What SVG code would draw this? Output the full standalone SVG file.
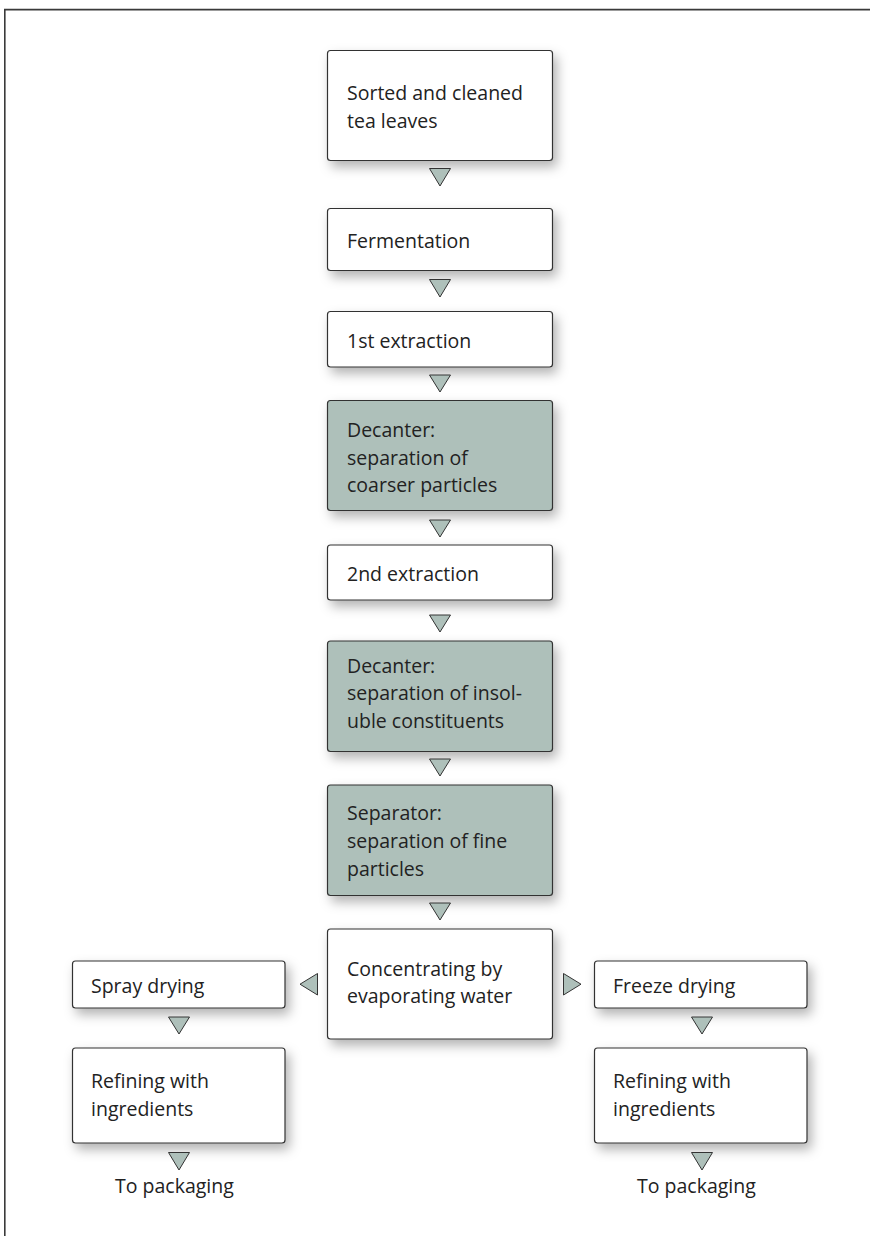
<svg xmlns="http://www.w3.org/2000/svg" width="870" height="1236" viewBox="0 0 870 1236">
<style>
.box{fill:#ffffff;stroke:#333333;stroke-width:1.2;filter:url(#sh)}
.dark{fill:#aec0ba}
.t{font-family:"Open Sans","Noto Sans",sans-serif;font-size:19.5px;fill:#222222}
.arr{fill:#aec0ba;stroke:#333333;stroke-width:1}
.frame{stroke:#3a3a3a;stroke-width:1.6;fill:none}
</style>
<defs>
<filter id="sh" x="-20%" y="-20%" width="150%" height="160%">
<feDropShadow dx="4" dy="6" stdDeviation="6" flood-color="#000" flood-opacity="0.3"/>
</filter>
</defs>
<rect width="870" height="1236" fill="#ffffff"/>
<path class="frame" d="M4.8 1236 V9.6 H870"/>

<g id="n1"><rect class="box" x="327.5" y="50.5" width="225" height="110" rx="3"/>
<text class="t" x="347" y="100">Sorted and cleaned</text><text class="t" x="347" y="128">tea leaves</text></g>
<g id="n2"><rect class="box" x="327.5" y="208.5" width="225" height="62" rx="3"/>
<text class="t" x="347" y="248">Fermentation</text></g>
<g id="n3"><rect class="box" x="327.5" y="311.5" width="225" height="55.5" rx="3"/>
<text class="t" x="347" y="348">1st extraction</text></g>
<g id="n4"><rect class="box dark" x="327.5" y="400.5" width="225" height="110" rx="3"/>
<text class="t" x="347" y="437">Decanter:</text><text class="t" x="347" y="465">separation of</text><text class="t" x="347" y="492">coarser particles</text></g>
<g id="n5"><rect class="box" x="327.5" y="545" width="225" height="55" rx="3"/>
<text class="t" x="347" y="581">2nd extraction</text></g>
<g id="n6"><rect class="box dark" x="327.5" y="641" width="225" height="110.5" rx="3"/>
<text class="t" x="347" y="673">Decanter:</text><text class="t" x="347" y="700">separation of insol-</text><text class="t" x="347" y="728">uble constituents</text></g>
<g id="n7"><rect class="box dark" x="327.5" y="785" width="225" height="110.5" rx="3"/>
<text class="t" x="347" y="820">Separator:</text><text class="t" x="347" y="848">separation of fine</text><text class="t" x="347" y="876">particles</text></g>
<g id="n8"><rect class="box" x="327.5" y="929" width="225" height="110" rx="3"/>
<text class="t" x="347" y="976">Concentrating by</text><text class="t" x="347" y="1003">evaporating water</text></g>
<g id="n9"><rect class="box" x="72.5" y="961" width="212.5" height="47" rx="3"/>
<text class="t" x="91" y="993">Spray drying</text></g>
<g id="n10"><rect class="box" x="72.5" y="1048" width="212.5" height="95" rx="3"/>
<text class="t" x="91" y="1088">Refining with</text><text class="t" x="91" y="1116">ingredients</text></g>
<g id="n11"><rect class="box" x="594.5" y="961" width="212.5" height="47" rx="3"/>
<text class="t" x="613" y="993">Freeze drying</text></g>
<g id="n12"><rect class="box" x="594.5" y="1048" width="212.5" height="95" rx="3"/>
<text class="t" x="613" y="1088">Refining with</text><text class="t" x="613" y="1116">ingredients</text></g>
<g id="out1"><text class="t" x="115" y="1193">To packaging</text></g>
<g id="out2"><text class="t" x="637" y="1193">To packaging</text></g>

<g id="connectors">
<polygon class="arr" points="429.5,168.5 450.5,168.5 440,186"/>
<polygon class="arr" points="429.5,279.5 450.5,279.5 440,297"/>
<polygon class="arr" points="429.5,375 450.5,375 440,392"/>
<polygon class="arr" points="429.5,520 450.5,520 440,537"/>
<polygon class="arr" points="429.5,615 450.5,615 440,632"/>
<polygon class="arr" points="429.5,759 450.5,759 440,776"/>
<polygon class="arr" points="429.5,903 450.5,903 440,920"/>
<polygon class="arr" points="317.5,973.5 317.5,995 300,984.2"/>
<polygon class="arr" points="563.5,973.5 563.5,995 581,984.2"/>
<polygon class="arr" points="168.5,1017 189.5,1017 179,1034"/>
<polygon class="arr" points="168.5,1152.5 189.5,1152.5 179,1170"/>
<polygon class="arr" points="691.5,1017 712.5,1017 702,1034"/>
<polygon class="arr" points="691.5,1152.5 712.5,1152.5 702,1170"/>
</g>
</svg>
